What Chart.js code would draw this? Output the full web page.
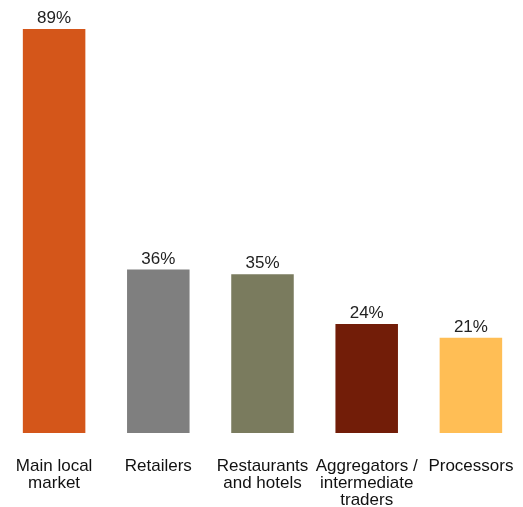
<!DOCTYPE html>
<html>
<head>
<meta charset="utf-8">
<script src="https://cdn.jsdelivr.net/npm/chart.js@4/dist/chart.umd.min.js"></script>
<style>
  html, body { margin: 0; padding: 0; background: #fff; }
  #wrap { width: 523px; height: 507px; position: relative; }
</style>
</head>
<body>
<div id="wrap"><canvas id="salesChart"></canvas></div>
<script>
const categories = [
    ['Main local', 'market'],
    ['Retailers'],
    ['Restaurants', 'and hotels'],
    ['Aggregators /', 'intermediate', 'traders'],
    ['Processors']
];
const shares = [89, 36, 35, 24, 21];
const barColors = ['#D4561A', '#7F7F7F', '#7A7B5E', '#721D08', '#FFBE55'];

// writes the percentage above each bar
const valueLabels = {
    id: 'valueLabels',
    afterDatasetsDraw(chart) {
        const ctx = chart.ctx;
        const meta = chart.getDatasetMeta(0);
        ctx.save();
        ctx.font = '17px "Liberation Sans", Arial, sans-serif';
        ctx.fillStyle = '#222';
        ctx.textAlign = 'center';
        ctx.textBaseline = 'bottom';
        meta.data.forEach(function (bar, i) {
            ctx.fillText(shares[i] + '%', bar.x, bar.y - 2);
        });
        ctx.restore();
    }
};

document.addEventListener('DOMContentLoaded', function () {
    const ctx = document.getElementById('salesChart');

    new Chart(ctx, {
        type: 'bar',
        data: {
            labels: categories,
            datasets: [{
                data: shares,
                backgroundColor: barColors,
                borderWidth: 0,
                barPercentage: 0.6,
                categoryPercentage: 1
            }]
        },
        options: {
            responsive: true,
            maintainAspectRatio: false,
            animation: false,
            layout: {
                padding: { left: 2, right: 0, top: 0, bottom: 0 }
            },
            scales: {
                x: {
                    grid: { display: false, drawTicks: false },
                    border: { display: false },
                    ticks: {
                        color: '#111',
                        padding: 25,
                        maxRotation: 0,
                        autoSkip: false,
                        font: { family: '"Liberation Sans", Arial, sans-serif', size: 17, lineHeight: 1 }
                    },
                    // keep the bars spread across the full width, fixed label band
                    afterFit(scale) {
                        scale.paddingLeft = 0;
                        scale.paddingRight = 0;
                        scale.height = 74;
                    }
                },
                y: {
                    display: false,
                    min: 0,
                    max: 95.4
                }
            },
            plugins: {
                legend: { display: false },
                tooltip: { enabled: false }
            }
        },
        plugins: [valueLabels]
    });
});
</script>
</body>
</html>
